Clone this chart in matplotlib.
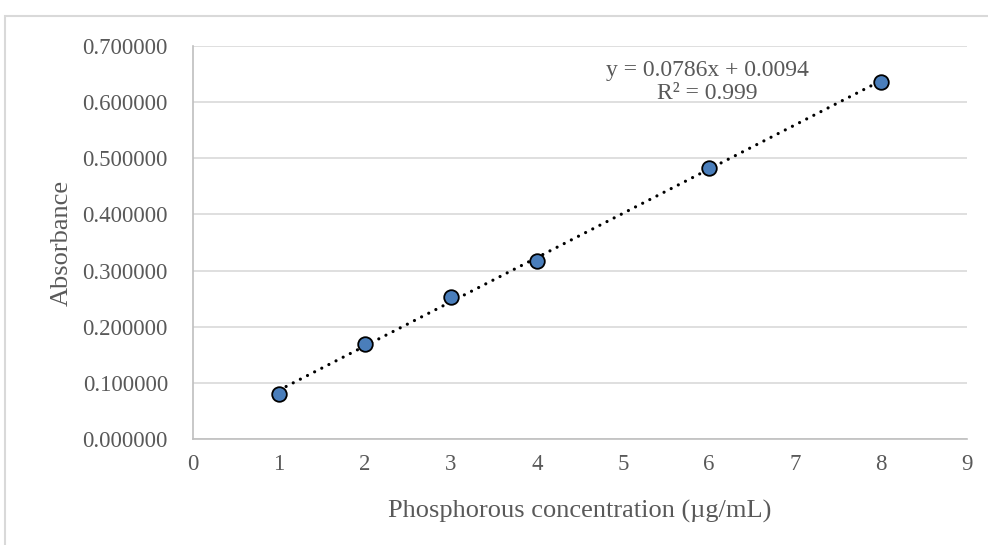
import matplotlib.pyplot as plt
import numpy as np
from matplotlib.patches import Rectangle

plt.rcParams['font.family'] = ['Liberation Serif', 'DejaVu Serif']

conc = [1, 2, 3, 4, 6, 8]
absorb = [0.080, 0.170, 0.253, 0.317, 0.483, 0.636]
xticks = list(range(0, 10))
yticks = [0.0, 0.1, 0.2, 0.3, 0.4, 0.5, 0.6, 0.7]
eq_text = "y = 0.0786x + 0.0094\nR² = 0.999"

fig = plt.figure(figsize=(9.88, 5.45), dpi=100)
ax = fig.add_axes([0.1953, 0.1945, 0.9787 - 0.1953, 0.9156 - 0.1945])

# outer chart border (clipped at right / bottom like the screenshot)
fig.patches.append(Rectangle((5 / 988, -0.1), 1.1, 0.1 + (545 - 16) / 545,
                             transform=fig.transFigure, fill=False,
                             edgecolor='#D9D9D9', lw=1.5))

# trendline over the data range
slope, icpt = np.polyfit(conc, absorb, 1)
xs = np.array([min(conc), max(conc)])
ax.plot(xs, slope * xs + icpt, color='black', lw=2.3,
        linestyle=(0, (0.01, 2.5)), dash_capstyle='round', zorder=3)

ax.plot(conc, absorb, 'o', ms=10.5, mfc='#4A7EBB', mec='black', mew=1.3,
        zorder=4)

ax.set_xlim(0, 9)
ax.set_ylim(0, 0.7)
ax.set_xticks(xticks)
ax.set_yticks(yticks)
ax.set_yticklabels(['%.6f' % v for v in yticks])
ax.grid(axis='y', color='#D9D9D9', lw=1.2)
ax.set_axisbelow(True)
for s in ['top', 'right']:
    ax.spines[s].set_visible(False)
for s in ['left', 'bottom']:
    ax.spines[s].set_color('#BFBFBF')
    ax.spines[s].set_linewidth(1.2)
ax.tick_params(axis='y', length=0, labelsize=16.5, colors='#595959', pad=18)
ax.tick_params(axis='x', length=0, labelsize=16.5, colors='#595959', pad=11)

ax.set_xlabel('Phosphorous concentration (µg/mL)', fontsize=19,
              color='#595959', labelpad=18)
ax.set_ylabel('Absorbance', fontsize=19, color='#595959', labelpad=7)

ax.text(5.98, 0.636, eq_text, fontsize=17, color='#595959',
        ha='center', va='center', linespacing=1.15)

fig.savefig('out.png', dpi=100)
